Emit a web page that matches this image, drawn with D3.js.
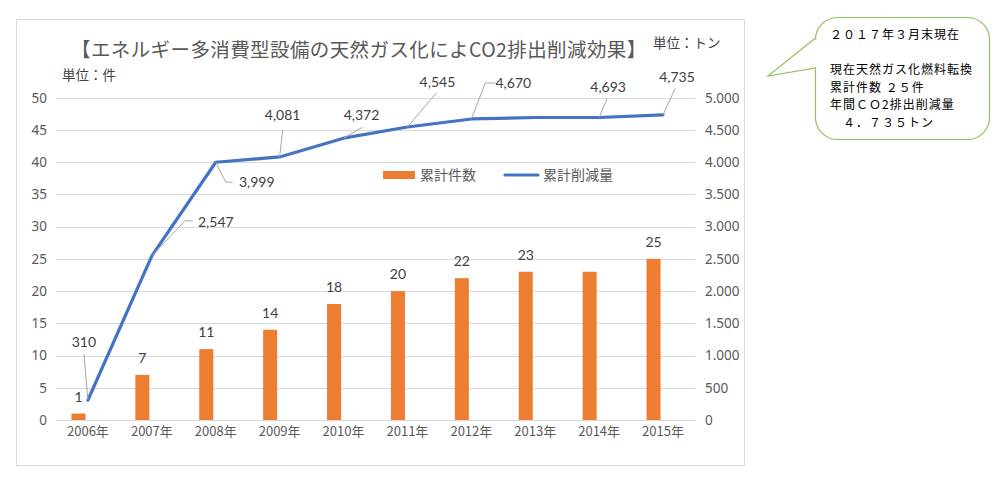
<!DOCTYPE html>
<html>
<head>
<meta charset="utf-8">
<script src="https://cdn.jsdelivr.net/npm/d3@7"></script>
<style>
  body { margin: 0; background: #fff; }
  svg { display: block; }
</style>
</head>
<body>
<svg id="chart"></svg>
<script>
// chart data
const years = ["2006年", "2007年", "2008年", "2009年", "2010年", "2011年", "2012年", "2013年", "2014年", "2015年"];
const caseCount = [1, 7, 11, 14, 18, 20, 22, 23, 23, 25];          // 累計件数 (件)
const co2Reduction = [310, 2547, 3999, 4081, 4372, 4545, 4670, 4693, 4693, 4735]; // 累計削減量 (トン)
const leftTicks = [0, 5, 10, 15, 20, 25, 30, 35, 40, 45, 50];
const rightTicks = [0, 500, 1000, 1500, 2000, 2500, 3000, 3500, 4000, 4500, 5000];
const seriesNames = ["累計件数", "累計削減量"];
const noteLines = ["２０１７年３月末現在", "", "現在天然ガス化燃料転換", "累計件数 ２５件", "年間ＣＯ2排出削減量", "　４．７３５トン"];

// hand placed label positions (offsets from the point), null = no label
const lineLabelPos = [
  { d: [-4, -58], lead: [[-4, -46]] },
  { d: [64, -34], lead: [[33, -35], [41, -35]] },
  { d: [41, 20], lead: [[10, 20], [17, 20]] },
  { d: [3, -42], lead: [[3, -27]] },
  { d: [18, -23], lead: [[19, -11]] },
  { d: [30, -45], lead: [[29, -34]] },
  { d: [42, -36], lead: [[14, -36], [24, -36]] },
  null,
  { d: [9, -30], lead: [[8, -19]] },
  { d: [14, -38], lead: [[12, -26]] }
];
const showBarLabel = [true, true, true, true, true, true, true, true, false, true];

const W = 1000, H = 482;
const plot = { left: 56, right: 695, top: 97.7, bottom: 420 };
const orange = "#ED7D31", blue = "#4472C4", grid = "#D9D9D9", axisText = "#595959";
const jp = "'Noto Sans CJK JP', 'Noto Sans', sans-serif";

const svg = d3.select("#chart").attr("width", W).attr("height", H);
svg.append("rect").attr("width", W).attr("height", H).attr("fill", "#fff");

// chart frame
svg.append("rect")
  .attr("x", 16.5).attr("y", 19.5).attr("width", 728).attr("height", 446)
  .attr("fill", "none").attr("stroke", grid);

const x = d3.scaleBand().domain(years).range([plot.left, plot.right]);
const yL = d3.scaleLinear().domain([0, 50]).range([plot.bottom, plot.top]);
const yR = d3.scaleLinear().domain([0, 5000]).range([plot.bottom, plot.top]);
const cx = d => x(d) + x.bandwidth() / 2;

// gridlines
svg.append("g").selectAll("line").data(leftTicks).join("line")
  .attr("x1", plot.left).attr("x2", plot.right)
  .attr("y1", d => Math.round(yL(d)) + 0.5).attr("y2", d => Math.round(yL(d)) + 0.5)
  .attr("stroke", grid).attr("stroke-width", 1);

// left axis
const axL = svg.append("g")
  .attr("transform", `translate(${plot.left - 9},0)`)
  .call(d3.axisLeft(yL).tickValues(leftTicks).tickSize(0).tickPadding(0));
axL.select(".domain").remove();
axL.selectAll("text").attr("fill", axisText).attr("font-size", 13.5)
  .attr("font-family", "'Noto Sans', sans-serif");

// right axis
const axR = svg.append("g")
  .attr("transform", `translate(${plot.right + 10},0)`)
  .call(d3.axisRight(yR).tickValues(rightTicks).tickSize(0).tickPadding(0)
    .tickFormat(d => d3.format(",")(d).replace(",", ".")));
axR.select(".domain").remove();
axR.selectAll("text").attr("fill", axisText).attr("font-size", 13.5)
  .attr("font-family", "'Noto Sans', sans-serif");

// bottom axis
const axB = svg.append("g")
  .attr("transform", `translate(0,${plot.bottom + 7})`)
  .call(d3.axisBottom(x).tickSize(0).tickPadding(0));
axB.select(".domain").remove();
axB.selectAll("text").attr("fill", axisText).attr("font-size", 13)
  .attr("font-family", jp);

// bars
const barW = 14, barShift = -16.5;
svg.append("g").selectAll("rect").data(years).join("rect")
  .attr("x", d => cx(d) + barShift)
  .attr("y", (d, i) => yL(caseCount[i]))
  .attr("width", barW)
  .attr("height", (d, i) => yL(0) - yL(caseCount[i]))
  .attr("fill", orange);

svg.append("g").selectAll("text").data(years).join("text")
  .filter((d, i) => showBarLabel[i])
  .attr("x", d => cx(d) + barShift + barW / 2)
  .attr("y", d => yL(caseCount[years.indexOf(d)]) - 12)
  .attr("text-anchor", "middle")
  .attr("font-family", "Lato, 'Open Sans', sans-serif")
  .attr("font-size", 14).attr("fill", "#404040")
  .text(d => caseCount[years.indexOf(d)]);

// line
const line = d3.line().x((d, i) => cx(years[i])).y(d => yR(d));
svg.append("path").datum(co2Reduction)
  .attr("d", line).attr("fill", "none")
  .attr("stroke", blue).attr("stroke-width", 3.2)
  .attr("stroke-linejoin", "round").attr("stroke-linecap", "round");

// line labels with leader lines
const labG = svg.append("g");
co2Reduction.forEach((v, i) => {
  const p = lineLabelPos[i];
  if (!p) return;
  const px = cx(years[i]), py = yR(v);
  const pts = [[px, py]].concat(p.lead.map(o => [px + o[0], py + o[1]]));
  labG.append("path").attr("d", d3.line()(pts))
    .attr("fill", "none").attr("stroke", "#A6A6A6").attr("stroke-width", 1);
  labG.append("text")
    .attr("x", px + p.d[0]).attr("y", py + p.d[1])
    .attr("dy", "0.35em").attr("text-anchor", "middle")
    .attr("font-family", "Lato, 'Open Sans', sans-serif")
    .attr("font-size", 14).attr("fill", "#404040")
    .text(d3.format(",")(v));
});

// title and units
svg.append("text").attr("x", 71).attr("y", 57)
  .attr("font-family", jp).attr("font-size", 19.5).attr("letter-spacing", 0.4)
  .attr("fill", axisText)
  .text("【エネルギー多消費型設備の天然ガス化によCO2排出削減効果】");
svg.append("text").attr("x", 62).attr("y", 80)
  .attr("font-family", jp).attr("font-size", 13.5).attr("fill", "#404040")
  .text("単位：件");
svg.append("text").attr("x", 653).attr("y", 48)
  .attr("font-family", jp).attr("font-size", 13.5).attr("fill", "#404040")
  .text("単位：トン");

// legend
const lg = svg.append("g").attr("transform", "translate(383,175)");
lg.append("rect").attr("x", 0).attr("y", -4).attr("width", 32).attr("height", 8).attr("fill", orange);
lg.append("text").attr("x", 37).attr("y", 0).attr("dy", "0.35em")
  .attr("font-family", jp).attr("font-size", 14).attr("fill", axisText).text(seriesNames[0]);
lg.append("line").attr("x1", 122).attr("x2", 155).attr("y1", 0).attr("y2", 0)
  .attr("stroke", blue).attr("stroke-width", 3.2).attr("stroke-linecap", "round");
lg.append("text").attr("x", 160).attr("y", 0).attr("dy", "0.35em")
  .attr("font-family", jp).attr("font-size", 14).attr("fill", axisText).text(seriesNames[1]);

// callout bubble
const bx = 815.5, by = 17.5, bw = 174, bh = 122, r = 22;
const bubble = d3.path();
bubble.moveTo(bx + r, by);
bubble.lineTo(bx + bw - r, by);
bubble.arcTo(bx + bw, by, bx + bw, by + r, r);
bubble.lineTo(bx + bw, by + bh - r);
bubble.arcTo(bx + bw, by + bh, bx + bw - r, by + bh, r);
bubble.lineTo(bx + r, by + bh);
bubble.arcTo(bx, by + bh, bx, by + bh - r, r);
bubble.lineTo(bx, 68);
bubble.lineTo(768, 76);
bubble.lineTo(bx, 38);
bubble.lineTo(bx, by + r);
bubble.arcTo(bx, by, bx + r, by, r);
bubble.closePath();
svg.append("path").attr("d", bubble.toString())
  .attr("fill", "#fff").attr("stroke", "#8FC160").attr("stroke-width", 1.2);

svg.append("g").selectAll("text").data(noteLines).join("text")
  .attr("x", 830).attr("y", (d, i) => 35 + i * 17.5)
  .attr("dy", "0.35em")
  .attr("font-family", jp).attr("font-size", 12).attr("letter-spacing", 1)
  .attr("fill", "#000")
  .text(d => d);
</script>
</body>
</html>
